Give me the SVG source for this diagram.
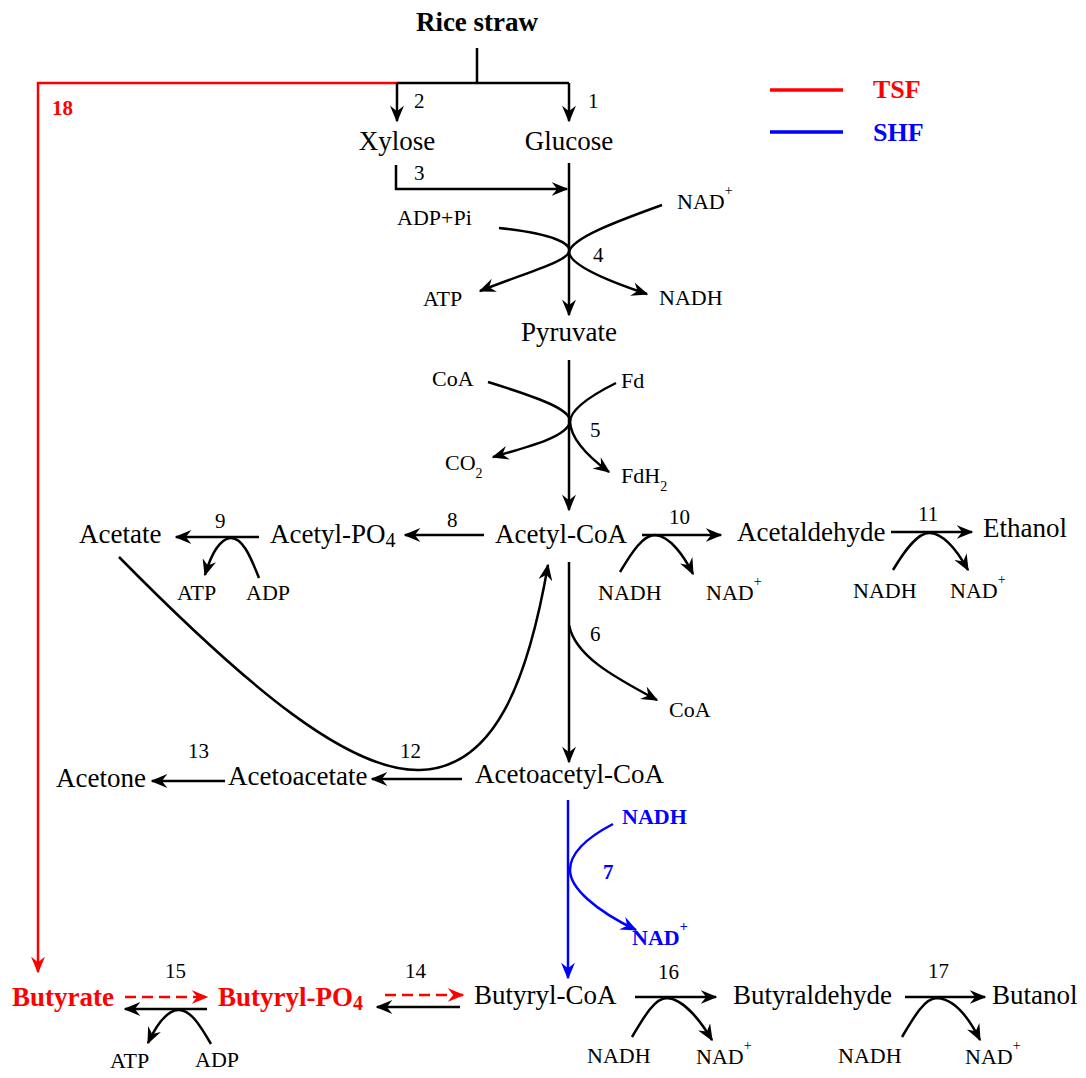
<svg xmlns="http://www.w3.org/2000/svg" width="1086" height="1078" viewBox="0 0 1086 1078">
<style>
text{font-family:"Liberation Serif","Times New Roman",serif;fill:#000}
.m{font-size:27px}
.s{font-size:22px}
.n{font-size:21px}
.b{font-weight:bold}
.r{fill:#ff0000}
.bl{fill:#0000ff}
.k{stroke:#000;stroke-width:2.5;fill:none}
.kr{stroke:#ff0000;stroke-width:2.5;fill:none}
.kb{stroke:#0000ff;stroke-width:2.5;fill:none}
.sup{font-size:14px}
</style>
<defs>
<marker id="ak" viewBox="0 0 12 10" refX="11" refY="5" markerWidth="17" markerHeight="14" markerUnits="userSpaceOnUse" orient="auto"><path d="M0,0 L12,5 L0,10 L4,5 z" fill="#000"/></marker>
<marker id="ar" viewBox="0 0 12 10" refX="11" refY="5" markerWidth="17" markerHeight="14" markerUnits="userSpaceOnUse" orient="auto"><path d="M0,0 L12,5 L0,10 L4,5 z" fill="#ff0000"/></marker>
<marker id="ab" viewBox="0 0 12 10" refX="11" refY="5" markerWidth="17" markerHeight="14" markerUnits="userSpaceOnUse" orient="auto"><path d="M0,0 L12,5 L0,10 L4,5 z" fill="#0000ff"/></marker>
</defs>

<g id="connectors">
  <path class="k" d="M477,48 V83"/>
  <path class="k" d="M397,83 H569"/>
  <path class="kr" d="M397,83 H38 V972" marker-end="url(#ar)"/>
  <path class="k" d="M397,83 V121" marker-end="url(#ak)"/>
  <path class="k" d="M569,83 V121" marker-end="url(#ak)"/>
  <path class="k" d="M396,165 V189 H567" marker-end="url(#ak)"/>
  <path class="k" d="M569,163 V315" marker-end="url(#ak)"/>
  <path class="k" d="M499,228 C555,234 572,244 569,252 C566,262 525,273 480,291" marker-end="url(#ak)"/>
  <path class="k" d="M662,205 C615,222 572,238 569,252 C570,265 605,280 647,294" marker-end="url(#ak)"/>
  <path class="k" d="M569,360 V510" marker-end="url(#ak)"/>
  <path class="k" d="M488,382 C540,398 572,410 570,422 C567,436 535,445 493,457" marker-end="url(#ak)"/>
  <path class="k" d="M616,383 C590,396 570,410 570,422 C571,440 590,458 609,472" marker-end="url(#ak)"/>
  <path class="k" d="M484,535 H405" marker-end="url(#ak)"/>
  <path class="k" d="M259,537 H176" marker-end="url(#ak)"/>
  <path class="k" d="M259,578 C250,555 242,537 230,538 C218,540 210,558 205,575" marker-end="url(#ak)"/>
  <path class="k" d="M642,535 H721" marker-end="url(#ak)"/>
  <path class="k" d="M620,572 C632,552 643,535 655,535 C670,536 684,556 693,574" marker-end="url(#ak)"/>
  <path class="k" d="M891,532 H972" marker-end="url(#ak)"/>
  <path class="k" d="M893,570 C905,550 918,532 930,533 C945,534 958,552 968,570" marker-end="url(#ak)"/>
  <path class="k" d="M569,562 V762" marker-end="url(#ak)"/>
  <path class="k" d="M569,625 C575,655 610,675 657,700" marker-end="url(#ak)"/>
  <path class="k" d="M119,557 C250,690 350,772 420,770 C495,768 528,680 548,565" marker-end="url(#ak)"/>
  <path class="k" d="M462,779 H372" marker-end="url(#ak)"/>
  <path class="k" d="M225,781 H152" marker-end="url(#ak)"/>
  <path class="kb" d="M568,800 V978" marker-end="url(#ab)"/>
  <path class="kb" d="M613,824 C590,836 570,852 570,870 C570,888 595,910 636,930" marker-end="url(#ab)"/>
  <path class="kr" d="M125,997 H207" stroke-dasharray="11,6" marker-end="url(#ar)"/>
  <path class="k" d="M207,1009 H125" marker-end="url(#ak)"/>
  <path class="k" d="M211,1044 C200,1025 190,1009 178,1010 C165,1011 155,1028 148,1043" marker-end="url(#ak)"/>
  <path class="kr" d="M385,995 H463" stroke-dasharray="11,6" marker-end="url(#ar)"/>
  <path class="k" d="M460,1007 H377" marker-end="url(#ak)"/>
  <path class="k" d="M635,997 H716" marker-end="url(#ak)"/>
  <path class="k" d="M632,1037 C645,1015 655,998 667,998 C683,999 700,1020 712,1040" marker-end="url(#ak)"/>
  <path class="k" d="M905,997 H985" marker-end="url(#ak)"/>
  <path class="k" d="M902,1037 C915,1015 925,998 937,998 C955,999 970,1020 980,1040" marker-end="url(#ak)"/>
</g>

<g id="legend">
  <path d="M770,90 H843" stroke="#ff0000" stroke-width="3.5"/>
  <text x="873" y="98" class="b r" font-size="26">TSF</text>
  <path d="M770,132 H843" stroke="#0000ff" stroke-width="3.5"/>
  <text x="873" y="141" class="b bl" font-size="26">SHF</text>
</g>

<g id="n-ricestraw"><text x="477" y="31" class="m b" text-anchor="middle">Rice straw</text></g>
<g id="lbl-18"><text x="52" y="115" class="b r" font-size="21">18</text></g>
<g id="lbl-2"><text x="414" y="108" class="n">2</text></g>
<g id="lbl-1"><text x="588" y="108" class="n">1</text></g>
<g id="n-xylose"><text x="397" y="150" class="m" text-anchor="middle">Xylose</text></g>
<g id="n-glucose"><text x="569" y="150" class="m" text-anchor="middle">Glucose</text></g>
<g id="lbl-3"><text x="414" y="180" class="n">3</text></g>
<g id="n-nad1"><text x="677" y="209" class="s">NAD<tspan class="sup" dy="-14">+</tspan></text></g>
<g id="n-adppi"><text x="397" y="225" class="s">ADP+Pi</text></g>
<g id="lbl-4"><text x="593" y="262" class="n">4</text></g>
<g id="n-atp1"><text x="423" y="306" class="s">ATP</text></g>
<g id="n-nadh1"><text x="659" y="305" class="s">NADH</text></g>
<g id="n-pyruvate"><text x="569" y="341" class="m" text-anchor="middle">Pyruvate</text></g>
<g id="n-coa1"><text x="432" y="386" class="s">CoA</text></g>
<g id="n-fd"><text x="621" y="388" class="s">Fd</text></g>
<g id="lbl-5"><text x="590" y="437" class="n">5</text></g>
<g id="n-co2"><text x="445" y="470" class="s">CO<tspan class="sup" dy="8">2</tspan></text></g>
<g id="n-fdh2"><text x="621" y="483" class="s">FdH<tspan class="sup" dy="8">2</tspan></text></g>

<g id="n-acetate"><text x="79" y="543" class="m">Acetate</text></g>
<g id="lbl-9"><text x="215" y="528" class="n">9</text></g>
<g id="n-atp2"><text x="177" y="600" class="s">ATP</text></g>
<g id="n-adp2"><text x="246" y="600" class="s">ADP</text></g>
<g id="n-acetylpo4"><text x="270" y="543" class="m">Acetyl-PO<tspan font-size="20" dy="4">4</tspan></text></g>
<g id="lbl-8"><text x="447" y="527" class="n">8</text></g>
<g id="n-acetylcoa"><text x="495" y="543" class="m">Acetyl-CoA</text></g>
<g id="lbl-10"><text x="669" y="524" class="n">10</text></g>
<g id="n-nadh2"><text x="598" y="600" class="s">NADH</text></g>
<g id="n-nad2"><text x="706" y="600" class="s">NAD<tspan class="sup" dy="-14">+</tspan></text></g>
<g id="n-acetaldehyde"><text x="737" y="541" class="m">Acetaldehyde</text></g>
<g id="lbl-11"><text x="918" y="521" class="n">11</text></g>
<g id="n-nadh3"><text x="853" y="598" class="s">NADH</text></g>
<g id="n-nad3"><text x="950" y="598" class="s">NAD<tspan class="sup" dy="-14">+</tspan></text></g>
<g id="n-ethanol"><text x="983" y="537" class="m">Ethanol</text></g>

<g id="lbl-6"><text x="590" y="641" class="n">6</text></g>
<g id="n-coa2"><text x="669" y="717" class="s">CoA</text></g>
<g id="lbl-12"><text x="400" y="758" class="n">12</text></g>
<g id="lbl-13"><text x="188" y="758" class="n">13</text></g>
<g id="n-acetone"><text x="56" y="787" class="m">Acetone</text></g>
<g id="n-acetoacetate"><text x="228" y="785" class="m">Acetoacetate</text></g>
<g id="n-acetoacetylcoa"><text x="475" y="783" class="m">Acetoacetyl-CoA</text></g>

<g id="n-nadh-blue"><text x="622" y="824" class="s b bl">NADH</text></g>
<g id="lbl-7"><text x="603" y="879" class="n b bl">7</text></g>
<g id="n-nad-blue"><text x="632" y="945" class="s b bl">NAD<tspan class="sup" dy="-14">+</tspan></text></g>

<g id="lbl-15"><text x="165" y="978" class="n">15</text></g>
<g id="n-butyrate"><text x="12" y="1006" class="m b r">Butyrate</text></g>
<g id="n-atp3"><text x="110" y="1068" class="s">ATP</text></g>
<g id="n-adp3"><text x="195" y="1067" class="s">ADP</text></g>
<g id="n-butyrylpo4"><text x="218" y="1006" class="m b r">Butyryl-PO<tspan font-size="20" dy="4">4</tspan></text></g>
<g id="lbl-14"><text x="405" y="978" class="n">14</text></g>
<g id="n-butyrylcoa"><text x="474" y="1004" class="m">Butyryl-CoA</text></g>
<g id="lbl-16"><text x="658" y="979" class="n">16</text></g>
<g id="n-nadh4"><text x="587" y="1063" class="s">NADH</text></g>
<g id="n-nad4"><text x="696" y="1064" class="s">NAD<tspan class="sup" dy="-14">+</tspan></text></g>
<g id="n-butyraldehyde"><text x="733" y="1004" class="m">Butyraldehyde</text></g>
<g id="lbl-17"><text x="928" y="978" class="n">17</text></g>
<g id="n-nadh5"><text x="838" y="1063" class="s">NADH</text></g>
<g id="n-nad5"><text x="965" y="1064" class="s">NAD<tspan class="sup" dy="-14">+</tspan></text></g>
<g id="n-butanol"><text x="992" y="1004" class="m">Butanol</text></g>
</svg>
